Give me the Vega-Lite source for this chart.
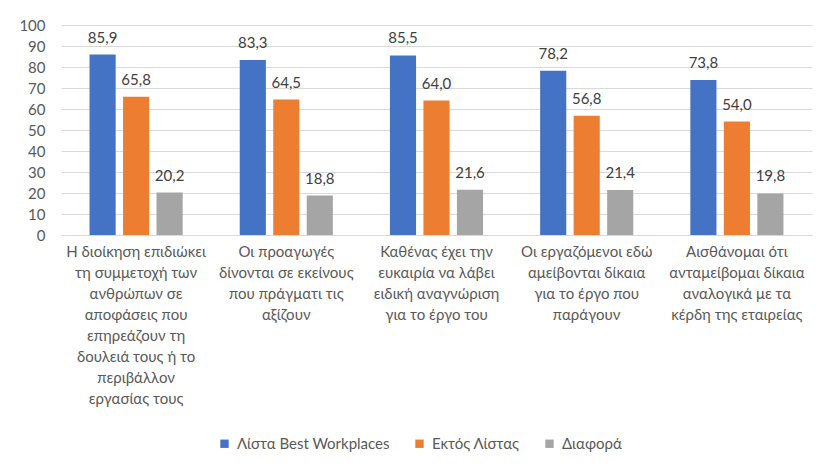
{
  "$schema": "https://vega.github.io/schema/vega-lite/v6.json",
  "width": 751,
  "height": 210,
  "autosize": {"type": "none"},
  "padding": {"left": 61, "top": 25, "right": 7, "bottom": 233},
  "background": "white",
  "config": {
    "locale": {"number": {"decimal": ",", "thousands": ".", "grouping": [3], "currency": ["", " €"]}},
    "view": {"stroke": null},
    "font": "Lato",
    "axis": {"labelFont": "Lato", "labelColor": "#595959", "labelFontSize": 15}
  },
  "data": {
    "values": [
      {"q": "Η διοίκηση επιδιώκει|τη συμμετοχή των|ανθρώπων σε|αποφάσεις που|επηρεάζουν τη|δουλειά τους ή το|περιβάλλον|εργασίας τους", "series": "Λίστα Best Workplaces", "value": 85.9},
      {"q": "Η διοίκηση επιδιώκει|τη συμμετοχή των|ανθρώπων σε|αποφάσεις που|επηρεάζουν τη|δουλειά τους ή το|περιβάλλον|εργασίας τους", "series": "Εκτός Λίστας", "value": 65.8},
      {"q": "Η διοίκηση επιδιώκει|τη συμμετοχή των|ανθρώπων σε|αποφάσεις που|επηρεάζουν τη|δουλειά τους ή το|περιβάλλον|εργασίας τους", "series": "Διαφορά", "value": 20.2},
      {"q": "Οι προαγωγές|δίνονται σε εκείνους|που πράγματι τις|αξίζουν", "series": "Λίστα Best Workplaces", "value": 83.3},
      {"q": "Οι προαγωγές|δίνονται σε εκείνους|που πράγματι τις|αξίζουν", "series": "Εκτός Λίστας", "value": 64.5},
      {"q": "Οι προαγωγές|δίνονται σε εκείνους|που πράγματι τις|αξίζουν", "series": "Διαφορά", "value": 18.8},
      {"q": "Καθένας έχει την|ευκαιρία να λάβει|ειδική αναγνώριση|για το έργο του", "series": "Λίστα Best Workplaces", "value": 85.5},
      {"q": "Καθένας έχει την|ευκαιρία να λάβει|ειδική αναγνώριση|για το έργο του", "series": "Εκτός Λίστας", "value": 64.0},
      {"q": "Καθένας έχει την|ευκαιρία να λάβει|ειδική αναγνώριση|για το έργο του", "series": "Διαφορά", "value": 21.6},
      {"q": "Οι εργαζόμενοι εδώ|αμείβονται δίκαια|για το έργο που|παράγουν", "series": "Λίστα Best Workplaces", "value": 78.2},
      {"q": "Οι εργαζόμενοι εδώ|αμείβονται δίκαια|για το έργο που|παράγουν", "series": "Εκτός Λίστας", "value": 56.8},
      {"q": "Οι εργαζόμενοι εδώ|αμείβονται δίκαια|για το έργο που|παράγουν", "series": "Διαφορά", "value": 21.4},
      {"q": "Αισθάνομαι ότι|ανταμείβομαι δίκαια|αναλογικά με τα|κέρδη της εταιρείας", "series": "Λίστα Best Workplaces", "value": 73.8},
      {"q": "Αισθάνομαι ότι|ανταμείβομαι δίκαια|αναλογικά με τα|κέρδη της εταιρείας", "series": "Εκτός Λίστας", "value": 54.0},
      {"q": "Αισθάνομαι ότι|ανταμείβομαι δίκαια|αναλογικά με τα|κέρδη της εταιρείας", "series": "Διαφορά", "value": 19.8}
    ]
  },
  "encoding": {
    "x": {
      "field": "q", "type": "nominal", "sort": null, "title": null,
      "scale": {"paddingInner": 0.38, "paddingOuter": 0.19},
      "axis": {
        "labelAngle": 0, "labelExpr": "split(datum.label, '|')", "labelLimit": 0,
        "labelLineHeight": 21, "labelPadding": 9, "labelBaseline": "top",
        "ticks": false, "domainColor": "#d9d9d9", "domainWidth": 1, "grid": false
      }
    },
    "xOffset": {
      "field": "series", "type": "nominal",
      "sort": ["Λίστα Best Workplaces", "Εκτός Λίστας", "Διαφορά"],
      "scale": {"paddingInner": 0.22, "paddingOuter": 0}
    },
    "y": {
      "field": "value", "type": "quantitative", "title": null,
      "scale": {"domain": [0, 100], "nice": false},
      "axis": {
        "values": [0, 10, 20, 30, 40, 50, 60, 70, 80, 90, 100], "format": "d",
        "ticks": false, "domain": false, "labelPadding": 16,
        "gridColor": "#d9d9d9", "gridWidth": 1
      }
    }
  },
  "layer": [
    {
      "mark": {"type": "bar"},
      "encoding": {
        "color": {
          "field": "series", "type": "nominal",
          "sort": ["Λίστα Best Workplaces", "Εκτός Λίστας", "Διαφορά"],
          "scale": {"domain": ["Λίστα Best Workplaces", "Εκτός Λίστας", "Διαφορά"], "range": ["#4472C4", "#ED7D31", "#A5A5A5"]},
          "legend": {
            "title": null, "orient": "none", "direction": "horizontal",
            "legendX": 156, "legendY": 411,
            "symbolType": "square", "symbolSize": 70, "symbolStrokeWidth": 0,
            "labelFont": "Lato", "labelFontSize": 15, "labelColor": "#595959",
            "columnPadding": 22, "labelOffset": 5
          }
        }
      }
    },
    {
      "mark": {"type": "text", "baseline": "alphabetic", "dy": -12, "fontSize": 15, "font": "Lato", "color": "#404040"},
      "encoding": {
        "text": {"field": "value", "type": "quantitative", "format": ".1f"}
      }
    }
  ]
}
